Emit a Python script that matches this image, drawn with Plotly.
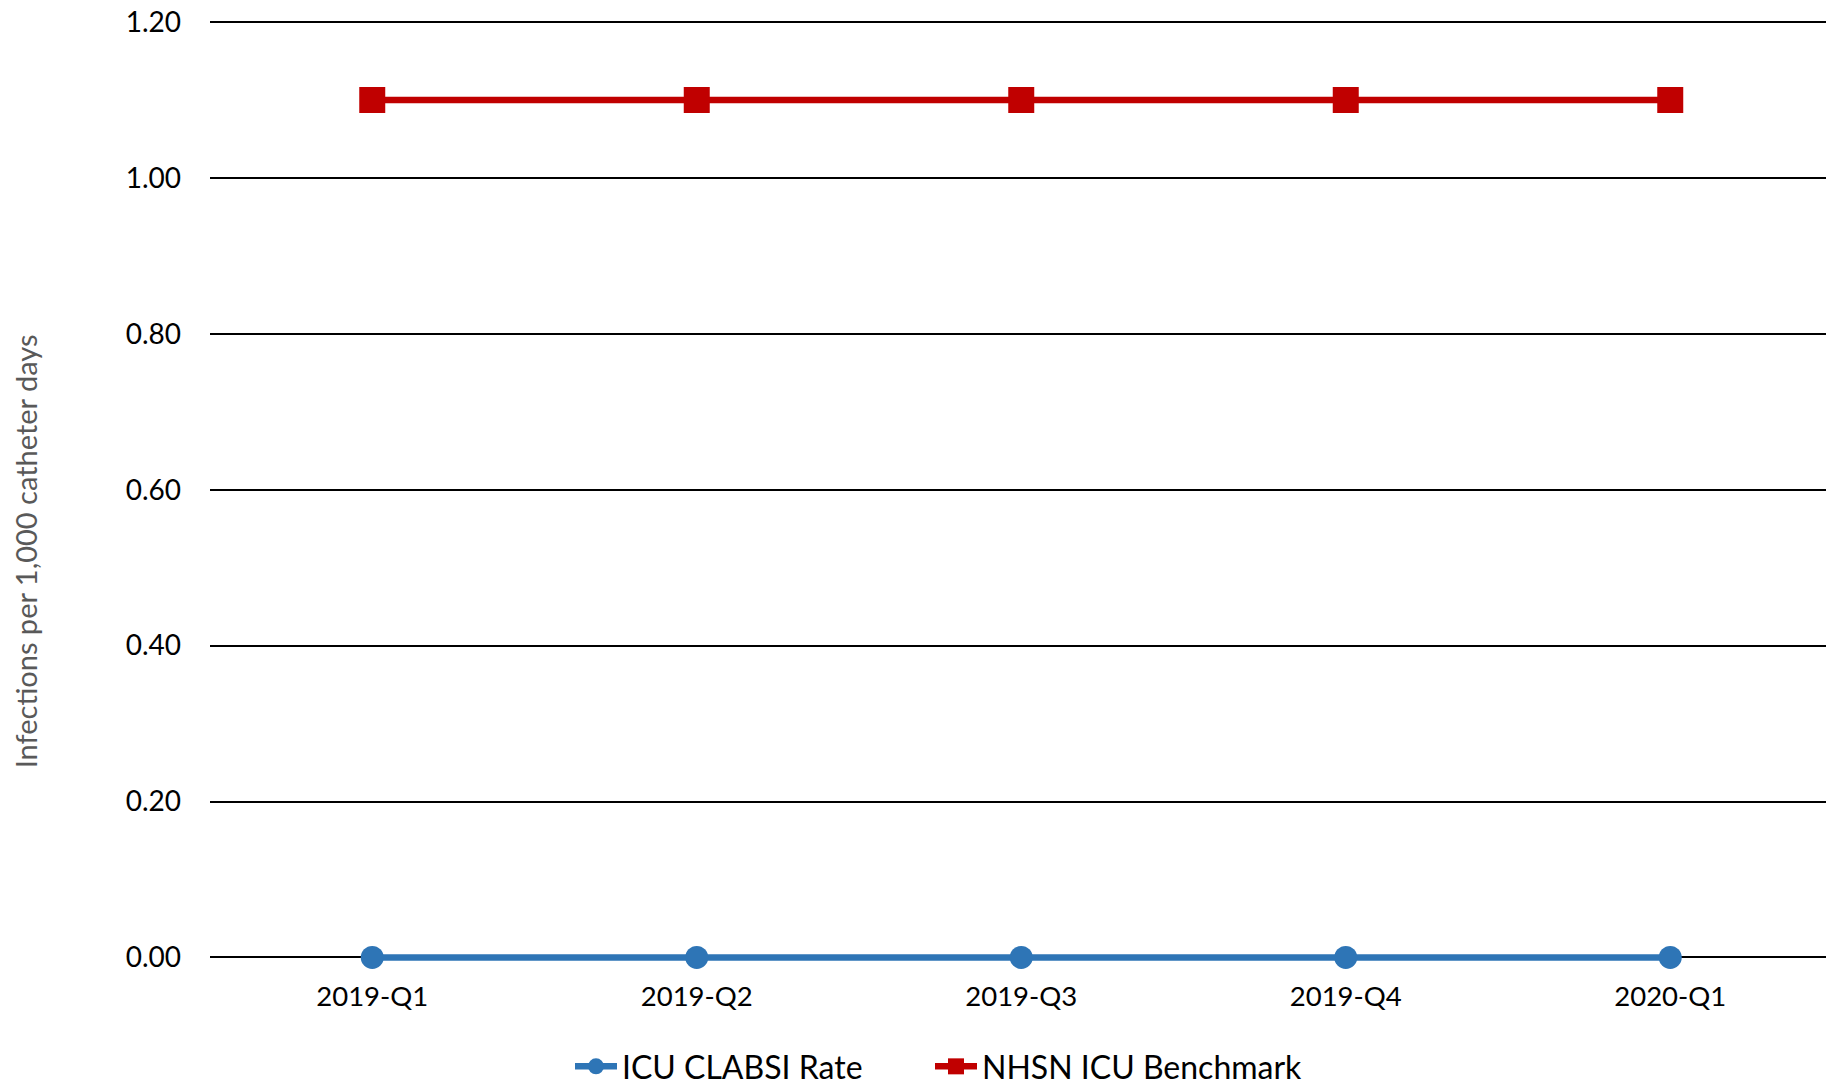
import plotly.graph_objects as go

quarters = ["2019-Q1", "2019-Q2", "2019-Q3", "2019-Q4", "2020-Q1"]
icu_clabsi_rate = [0.0, 0.0, 0.0, 0.0, 0.0]
nhsn_benchmark = [1.10, 1.10, 1.10, 1.10, 1.10]
y_ticks = [0.0, 0.2, 0.4, 0.6, 0.8, 1.0, 1.2]
y_tick_labels = ["0.00", "0.20", "0.40", "0.60", "0.80", "1.00", "1.20"]

FONT = "Lato"
OFF = 0  # body margin removed via post_script
W, H = 1826 - OFF, 1100
UNIT = 935 / 1.2            # pixels per y unit
Y_LO, Y_HI = -0.0045, 1.2039
L, R = 210 - OFF, 0
T = (22 - OFF) - (Y_HI - 1.2) * UNIT
PLOT_BOTTOM = (957 - OFF) + (0 - Y_LO) * UNIT
B = H - PLOT_BOTTOM
PW, PH = W - L - R, PLOT_BOTTOM - T

fig = go.Figure()
fig.add_trace(go.Scatter(
    x=quarters, y=icu_clabsi_rate, name="ICU CLABSI Rate", mode="lines+markers",
    line=dict(color="#2E75B6", width=6.5),
    marker=dict(symbol="circle", size=23, color="#2E75B6"),
    cliponaxis=False, legend="legend",
))
fig.add_trace(go.Scatter(
    x=quarters, y=nhsn_benchmark, name="NHSN ICU Benchmark", mode="lines+markers",
    line=dict(color="#C00000", width=6.5),
    marker=dict(symbol="square", size=26, color="#C00000"),
    cliponaxis=False, legend="legend2",
))

LEG_Y = (PLOT_BOTTOM - (1066 - OFF)) / PH
leg_common = dict(orientation="h", xanchor="left", y=LEG_Y, yanchor="middle",
                  font=dict(family=FONT, size=32, color="black"),
                  itemwidth=42, tracegroupgap=0, bgcolor="rgba(0,0,0,0)")

fig.update_layout(
    width=W, height=H,
    margin=dict(l=L, r=R, t=T, b=B, pad=0, autoexpand=False),
    paper_bgcolor="white", plot_bgcolor="white",
    font=dict(family=FONT, size=28, color="black"),
    showlegend=True,
    legend=dict(x=(570 - OFF - L) / PW, **leg_common),
    legend2=dict(x=(930 - OFF - L) / PW, **leg_common),
    xaxis=dict(type="category", range=[-0.5, -0.5 + PW / 324.5],
               showgrid=False, zeroline=False, showline=False, ticks="",
               automargin=False,
               tickfont=dict(family=FONT, size=27.5, color="black"),
               ticklabelstandoff=16),
    yaxis=dict(range=[Y_LO, Y_HI], tickvals=y_ticks, ticktext=y_tick_labels,
               showgrid=True, gridcolor="#000000", gridwidth=1.5,
               zeroline=True, zerolinecolor="#000000", zerolinewidth=1.5,
               showline=False, ticks="", ticklabeloverflow="allow",
               automargin=False,
               tickfont=dict(family=FONT, size=28, color="black"),
               ticklabelstandoff=28),
    annotations=[dict(
        text="Infections per 1,000 catheter days", xref="paper", yref="paper",
        x=(25 - OFF - L) / PW, y=(PLOT_BOTTOM - (551 - OFF)) / PH,
        xanchor="center", yanchor="middle", textangle=-90, showarrow=False,
        font=dict(family=FONT, size=29, color="#595959"),
    )],
)

fig.write_html("out.html",
               config={"displayModeBar": False},
               post_script="document.body.style.margin='0';document.body.style.overflow='hidden';")
